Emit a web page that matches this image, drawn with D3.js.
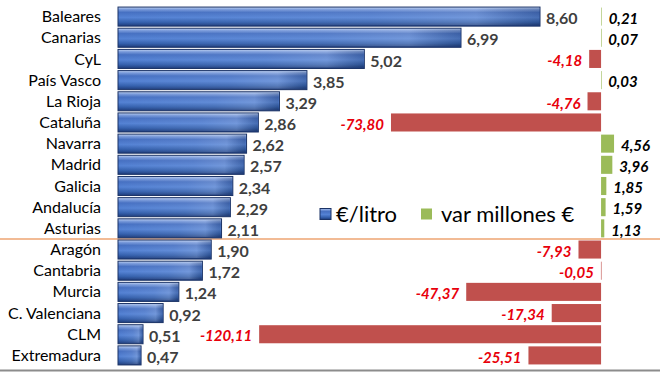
<!DOCTYPE html>
<html>
<head>
<meta charset="utf-8">
<script src="https://cdn.jsdelivr.net/npm/d3@7"></script>
<style>
  body { margin: 0; background: #fff; }
  svg { display: block; }
  text { font-family: Lato, "Open Sans", sans-serif; }
</style>
</head>
<body>
<div id="chart"></div>
<script>
// data
const regiones = ["Baleares", "Canarias", "CyL", "País Vasco", "La Rioja", "Cataluña", "Navarra",
  "Madrid", "Galicia", "Andalucía", "Asturias", "Aragón", "Cantabria", "Murcia",
  "C. Valenciana", "CLM", "Extremadura"];
const euroLitro = [8.60, 6.99, 5.02, 3.85, 3.29, 2.86, 2.62, 2.57, 2.34, 2.29, 2.11, 1.90, 1.72, 1.24, 0.92, 0.51, 0.47];
const varMillones = [0.21, 0.07, -4.18, 0.03, -4.76, -73.80, 4.56, 3.96, 1.85, 1.59, 1.13, -7.93, -0.05, -47.37, -17.34, -120.11, -25.51];
const legendLabels = ["€/litro", "var millones €"];

const width = 660, height = 372;

const svg = d3.select("#chart").append("svg")
  .attr("width", width)
  .attr("height", height);

// gradient for the bevelled blue bars
const defs = svg.append("defs");
const grad = defs.append("linearGradient")
  .attr("id", "blueBevel")
  .attr("x1", 0).attr("y1", 0).attr("x2", 0).attr("y2", 1);
[[0, "#c2d4f2"], [0.12, "#7a9bdb"], [0.28, "#4670c2"], [0.55, "#5482d4"], [0.8, "#3460ad"], [1, "#1d3a78"]]
  .forEach(s => grad.append("stop").attr("offset", s[0]).attr("stop-color", s[1]));
const gradH = defs.append("linearGradient")
  .attr("id", "blueShine")
  .attr("x1", 0).attr("y1", 0).attr("x2", 1).attr("y2", 0);
[[0, "#ffffff", 0], [0.6, "#ffffff", 0.08], [0.85, "#ffffff", 0.18], [1, "#000000", 0.15]]
  .forEach(s => gradH.append("stop").attr("offset", s[0]).attr("stop-color", s[1]).attr("stop-opacity", s[2]));

const data = regiones.map((r, i) => ({ region: r, litro: euroLitro[i], vari: varMillones[i] }));

const y = d3.scaleBand()
  .domain(regiones)
  .range([6, 366])
  .paddingInner(0.1)
  .paddingOuter(0.05);

const x1 = d3.scaleLinear().domain([0, 10]).range([118, 608.7]);
const x2 = d3.scaleLinear().domain([-130, 20]).range([231, 658]);

const fmt = v => d3.format(".2f")(v).replace(".", ",").replace("−", "-");

// orange separator between Asturias and Aragón
const sepY = (y("Asturias") + y.bandwidth() + y("Aragón")) / 2;
svg.append("line")
  .attr("x1", 0).attr("x2", width)
  .attr("y1", sepY).attr("y2", sepY)
  .attr("stroke", "#eea572")
  .attr("stroke-width", 1.5);

// bottom border
svg.append("line")
  .attr("x1", 0).attr("x2", width)
  .attr("y1", 370.5).attr("y2", 370.5)
  .attr("stroke", "#8c8c8c")
  .attr("stroke-width", 2);

// category labels
svg.append("g")
  .selectAll("text")
  .data(data)
  .enter()
  .append("text")
    .attr("x", 101)
    .attr("y", d => y(d.region) + y.bandwidth() / 2)
    .attr("dy", "0.35em")
    .attr("text-anchor", "end")
    .style("font-size", "16px")
    .style("fill", "#000")
    .text(d => d.region);

// blue bars
const blue = svg.append("g");
blue.selectAll("rect.bar")
  .data(data)
  .enter()
  .append("rect")
    .attr("class", "bar")
    .attr("x", x1(0))
    .attr("y", d => y(d.region))
    .attr("width", d => x1(d.litro) - x1(0))
    .attr("height", y.bandwidth())
    .style("fill", "url(#blueBevel)")
    .style("stroke", "#1b3366")
    .style("stroke-width", 1);
blue.selectAll("rect.shine")
  .data(data)
  .enter()
  .append("rect")
    .attr("class", "shine")
    .attr("x", x1(0) + 1)
    .attr("y", d => y(d.region) + 1)
    .attr("width", d => x1(d.litro) - x1(0) - 2)
    .attr("height", y.bandwidth() - 2)
    .style("fill", "url(#blueShine)");

blue.selectAll("text")
  .data(data)
  .enter()
  .append("text")
    .attr("x", d => x1(d.litro) + 6)
    .attr("y", d => y(d.region) + y.bandwidth() / 2 + 2)
    .attr("dy", "0.35em")
    .style("font-size", "16px")
    .style("font-weight", "bold")
    .style("fill", "#3f3f3f")
    .text(d => fmt(d.litro));

// variation bars
const vg = svg.append("g");
vg.selectAll("rect")
  .data(data)
  .enter()
  .append("rect")
    .attr("x", d => x2(Math.min(0, d.vari)))
    .attr("y", d => y(d.region) + 0.5)
    .attr("width", d => Math.max(0.6, Math.abs(x2(d.vari) - x2(0))))
    .attr("height", y.bandwidth() - 1)
    .style("fill", d => d.vari < 0 ? "#c0504d" : "#9bbb59");

vg.selectAll("text")
  .data(data)
  .enter()
  .append("text")
    .attr("x", d => d.vari < 0 ? x2(d.vari) - 7 : x2(d.vari) + 7)
    .attr("y", d => y(d.region) + y.bandwidth() / 2 + 2)
    .attr("dy", "0.35em")
    .attr("text-anchor", d => d.vari < 0 ? "end" : "start")
    .style("font-size", "15px")
    .style("font-weight", "bold")
    .style("font-style", "italic")
    .style("fill", d => d.vari < 0 ? "#e8000b" : "#000")
    .text(d => fmt(d.vari));

// legend
const legend = svg.append("g").attr("transform", "translate(320, 214)");
legend.append("rect")
  .attr("x", 0).attr("y", -5.5)
  .attr("width", 11).attr("height", 11)
  .style("fill", "url(#blueBevel)")
  .style("stroke", "#1b3366");
legend.append("text")
  .attr("x", 16).attr("y", 0)
  .attr("dy", "0.35em")
  .style("font-size", "22px")
  .text(legendLabels[0]);
legend.append("rect")
  .attr("x", 101).attr("y", -5.5)
  .attr("width", 11).attr("height", 11)
  .style("fill", "#9bbb59");
legend.append("text")
  .attr("x", 121).attr("y", 0)
  .attr("dy", "0.35em")
  .style("font-size", "22px")
  .text(legendLabels[1]);
</script>
</body>
</html>
